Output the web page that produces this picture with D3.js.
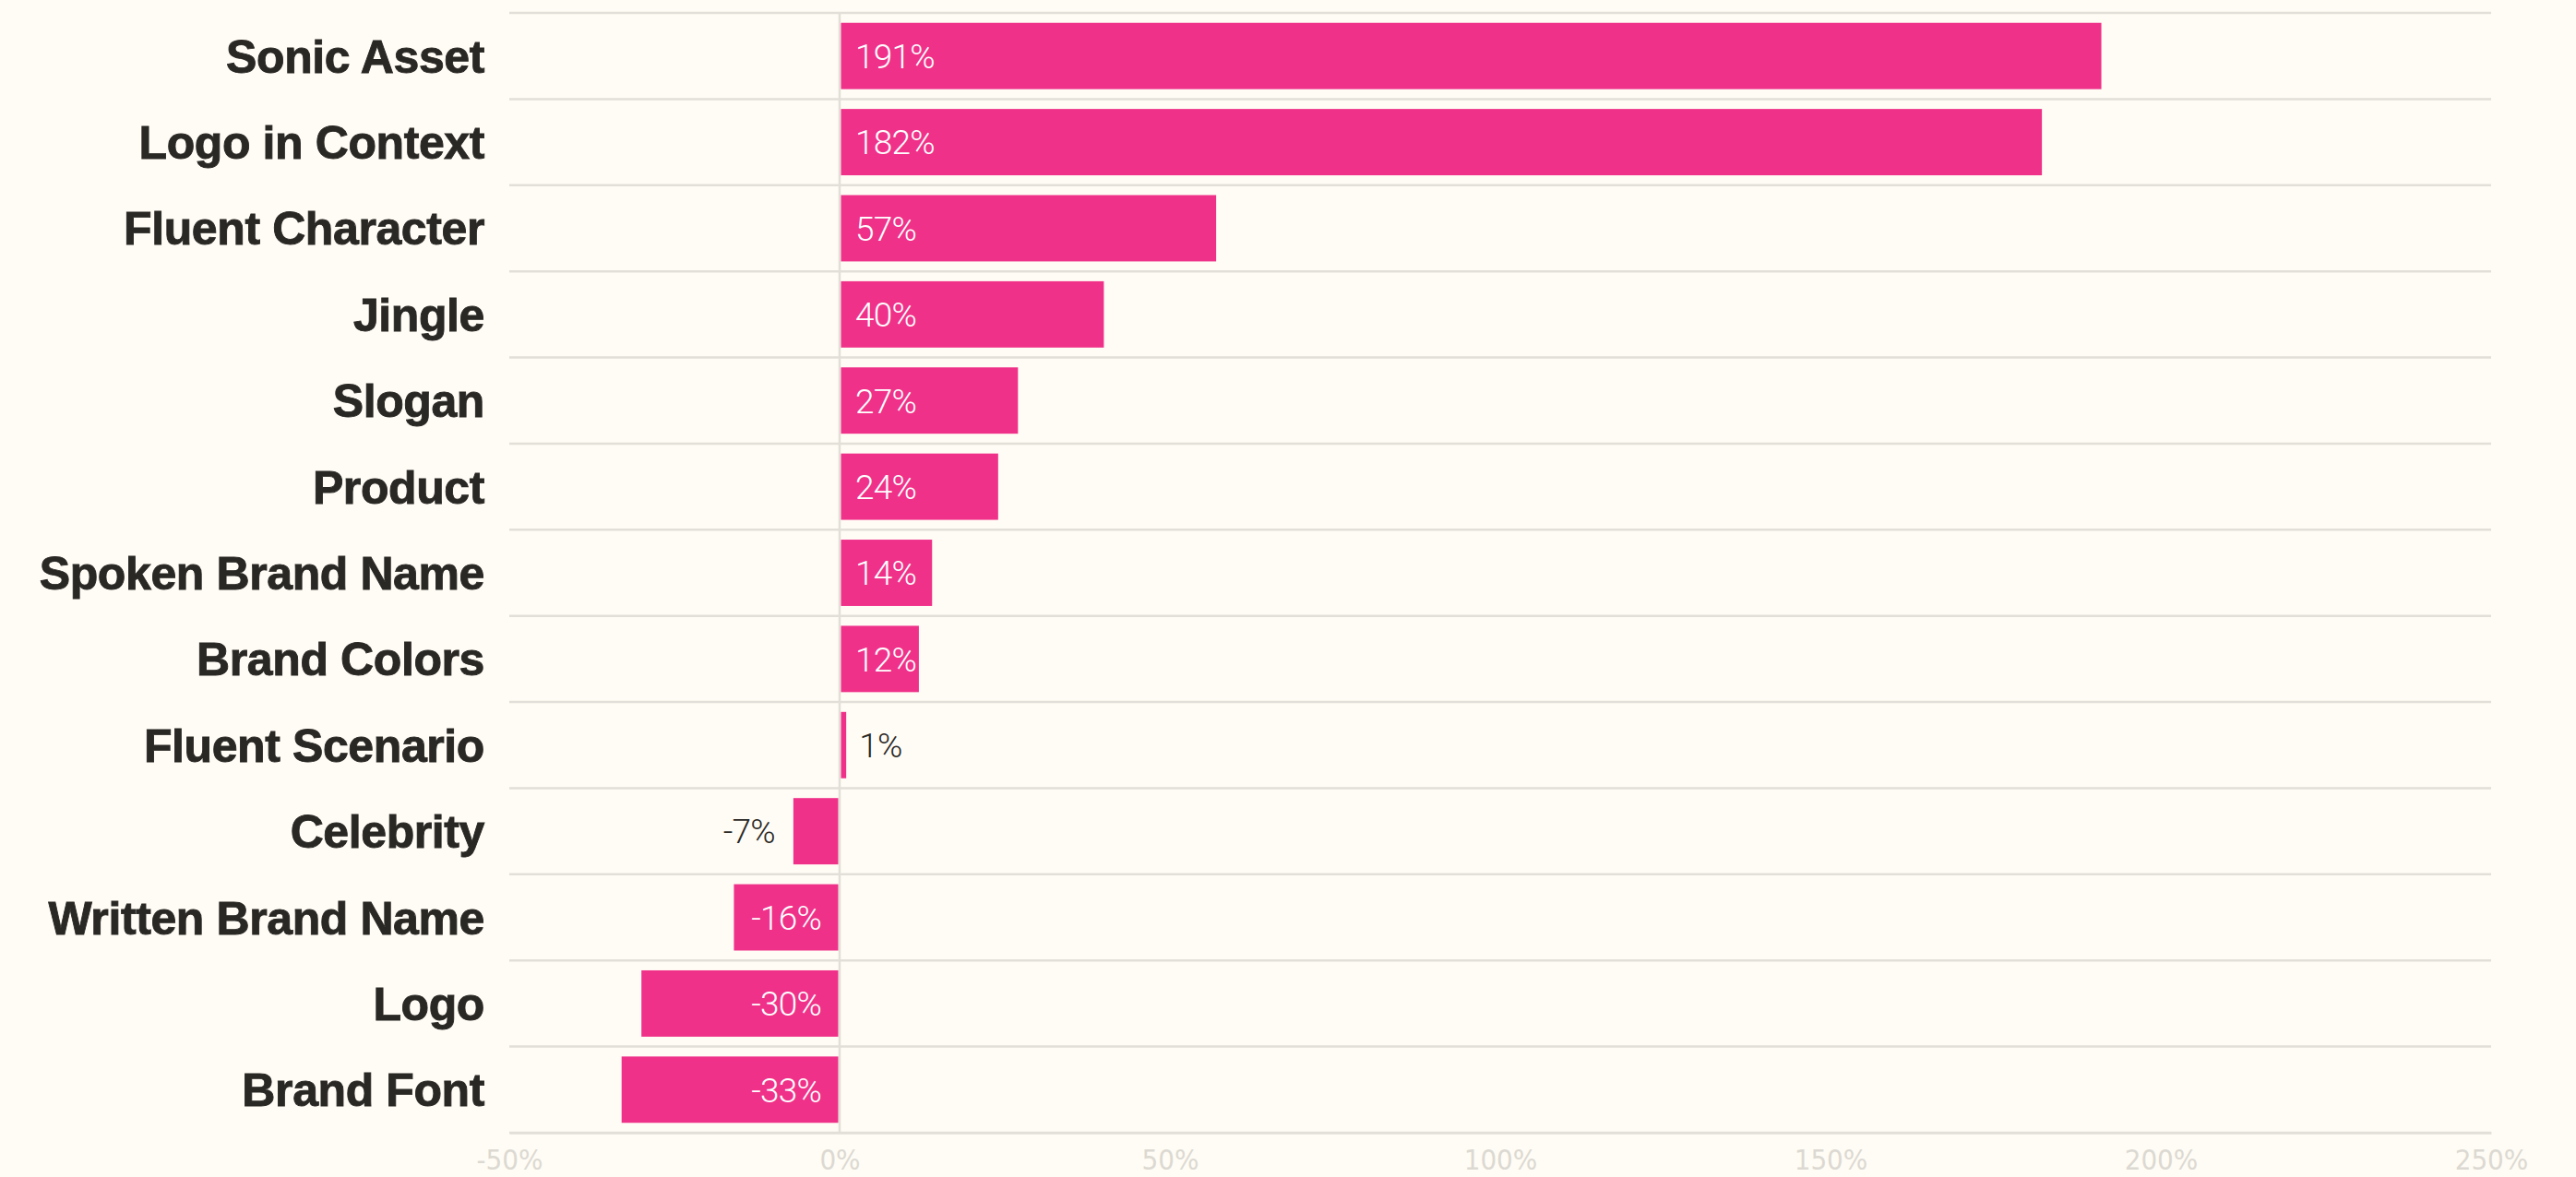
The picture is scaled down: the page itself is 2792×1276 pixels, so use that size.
<!DOCTYPE html>
<html>
<head>
<meta charset="utf-8">
<script src="https://cdn.jsdelivr.net/npm/d3@7"></script>
<style>
  html, body { margin: 0; padding: 0; background: #fffcf5; }
  svg { display: block; }
</style>
</head>
<body>
<svg id="chart" width="2792" height="1276"></svg>
<script>
const categories = ["Sonic Asset", "Logo in Context", "Fluent Character", "Jingle", "Slogan", "Product",
  "Spoken Brand Name", "Brand Colors", "Fluent Scenario", "Celebrity", "Written Brand Name", "Logo", "Brand Font"];
const values = [191, 182, 57, 40, 27, 24, 14, 12, 1, -7, -16, -30, -33];
const tickValues = [-50, 0, 50, 100, 150, 200, 250];
const tickLabels = ["-50%", "0%", "50%", "100%", "150%", "200%", "250%"];

(function () {
const W = 2792, H = 1276;
const mLeft = 552, mRight = 2700, mTop = 14, mBottom = 1228;
const pink = "#ef3189";
const gridColor = "#e2dfd8";

const svg = d3.select("#chart");
svg.append("rect").attr("width", W).attr("height", H).attr("fill", "#fffcf5");

const x = d3.scaleLinear().domain([-50, 250]).range([mLeft, mRight]);
const y = d3.scaleBand().domain(categories).range([mTop, mBottom]).paddingInner(0.23).paddingOuter(0.115);

// horizontal grid lines at band boundaries
const bounds = d3.range(categories.length + 1).map(i => mTop + i * (mBottom - mTop) / categories.length);
svg.append("g").selectAll("line").data(bounds).join("line")
  .attr("x1", mLeft).attr("x2", mRight)
  .attr("y1", d => d).attr("y2", d => d)
  .attr("stroke", gridColor).attr("stroke-width", 2.5);

// zero line
svg.append("line")
  .attr("x1", x(0)).attr("x2", x(0)).attr("y1", mTop).attr("y2", mBottom)
  .attr("stroke", gridColor).attr("stroke-width", 2.5);

// bars
const data = categories.map((c, i) => ({ c, v: values[i] }));
svg.append("g").selectAll("rect").data(data).join("rect")
  .attr("x", d => Math.min(x(0), x(d.v)) + (d.v >= 0 ? 1.5 : 0))
  .attr("width", d => Math.max(2.5, Math.abs(x(d.v) - x(0)) - 1.5))
  .attr("y", d => y(d.c))
  .attr("height", y.bandwidth())
  .attr("fill", pink);

// category labels
svg.append("g").selectAll("text").data(data).join("text")
  .attr("x", 525)
  .attr("y", d => y(d.c) + y.bandwidth() / 2)
  .attr("dy", "0.36em")
  .attr("text-anchor", "end")
  .attr("font-family", "'Liberation Sans', Arial, sans-serif")
  .attr("font-weight", 700)
  .attr("font-size", 50)
  .attr("letter-spacing", -0.4)
  .attr("fill", "#2a2825")
  .attr("stroke", "#2a2825")
  .attr("stroke-width", 0.9)
  .text(d => d.c);

// value labels
const fmt = v => v + "%";
svg.append("g").selectAll("text").data(data).join("text")
  .each(function(d) {
    const w = Math.abs(x(d.v) - x(0));
    const inside = w > 70;
    const t = d3.select(this);
    if (d.v >= 0) {
      t.attr("text-anchor", "start").attr("x", inside ? x(0) + 17 : x(d.v) + 14);
    } else {
      t.attr("text-anchor", "end").attr("x", inside ? x(0) - 20 : x(d.v) - 20);
    }
    t.attr("fill", inside ? "#ffffff" : "#2a2825");
  })
  .attr("y", d => y(d.c) + y.bandwidth() / 2)
  .attr("dy", "0.36em")
  .attr("font-family", "Roboto, 'Liberation Sans', Arial, sans-serif")
  .attr("font-weight", 300)
  .attr("font-size", 37)
  .attr("letter-spacing", -0.8)
  .text(d => fmt(d.v));

// x axis
const axis = d3.axisBottom(x).tickValues(tickValues).tickSize(0).tickPadding(18)
  .tickFormat((d, i) => tickLabels[i]);
const ag = svg.append("g").attr("transform", `translate(0,${mBottom})`).call(axis);
ag.select(".domain").attr("stroke", gridColor).attr("stroke-width", 2.5);
ag.selectAll("text")
  .attr("font-family", "'Liberation Sans Narrow', 'DejaVu Sans Condensed', sans-serif")
  .attr("font-size", 31)
  .attr("fill", "#dcd9d2");
})();
</script>
</body>
</html>
